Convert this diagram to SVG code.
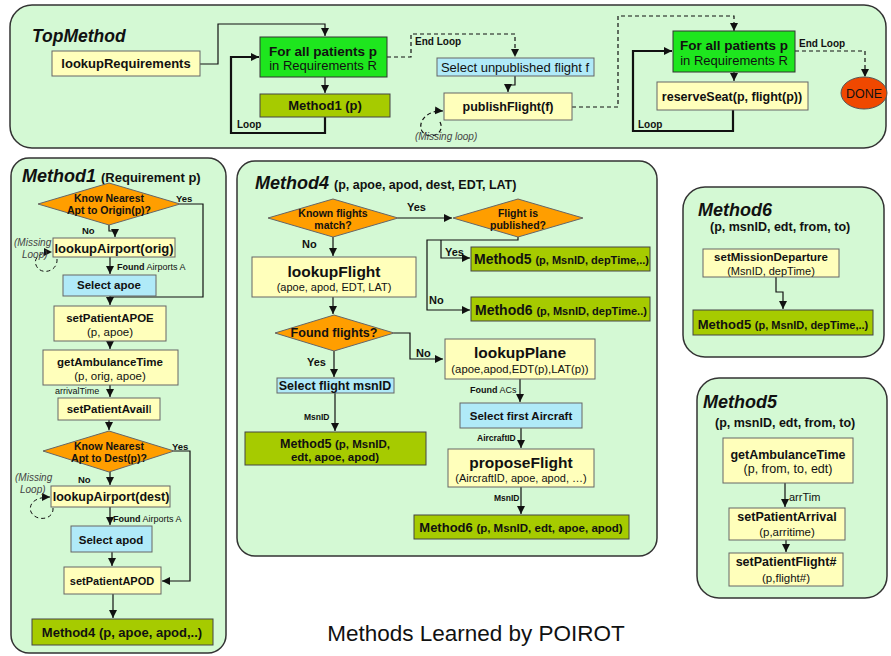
<svg xmlns="http://www.w3.org/2000/svg" width="891" height="656" viewBox="0 0 891 656">
<defs>
<marker id="a" viewBox="0 0 10 10" refX="10" refY="5" markerWidth="8" markerHeight="8" orient="auto" markerUnits="userSpaceOnUse"><path d="M0,0 L10,5 L0,10 z" fill="#111"/></marker>
</defs>
<style>
text{font-family:"Liberation Sans",Arial,sans-serif;fill:#111}
.panel{fill:#d4f9d4;stroke:#333;stroke-width:1.5}
.yel{fill:#ffffbb;stroke:#666;stroke-width:1}
.blue{fill:#b0eaf8;stroke:#666;stroke-width:1}
.grn{fill:#1ee61e;stroke:#333;stroke-width:1}
.olv{fill:#a6cb00;stroke:#444;stroke-width:1}
.dia{fill:#ff9e00;stroke:#666;stroke-width:1}
.c{fill:none;stroke:#111;stroke-width:1.2;marker-end:url(#a)}
.n{fill:none;stroke:#111;stroke-width:1.2}
.th{stroke-width:2.2}
.d{stroke-dasharray:4 3}
.b{font-weight:bold}
.m{text-anchor:middle}
.t{font-weight:bold;font-style:italic;font-size:18px}
.ml{font-style:italic;font-size:10px;fill:#444}
</style>

<!-- panels -->
<rect class="panel" x="10" y="5" width="876" height="143" rx="22"/>
<rect class="panel" x="11" y="158" width="215" height="495" rx="18"/>
<rect class="panel" x="237" y="161" width="420" height="395" rx="18"/>
<rect class="panel" x="683" y="187" width="201" height="170" rx="22"/>
<rect class="panel" x="697" y="378" width="190" height="220" rx="22"/>

<text class="t" x="32" y="42" style="font-size:17.5px">TopMethod</text>
<text class="t" x="22" y="182">Method1 <tspan class="b" style="font-style:normal;font-size:13px">(Requirement p)</tspan></text>
<text class="t" x="255" y="189">Method4 <tspan class="b" style="font-style:normal;font-size:12.5px">(p, apoe, apod, dest, EDT, LAT)</tspan></text>
<text class="t" x="698" y="216">Method6</text>
<text class="b" x="710" y="231" style="font-size:12.5px">(p, msnID, edt, from, to)</text>
<text class="t" x="703" y="408">Method5</text>
<text class="b" x="715" y="427" style="font-size:12.5px">(p, msnID, edt, from, to)</text>

<!-- connectors -->
<g id="connectors">
<path class="c" d="M200,64 H218 V24 H325 V36"/>
<path class="c" d="M325,77 V93"/>
<path class="c th" d="M325,117 V133 H231 V57 H259"/>
<path class="c d" d="M387,57 H411 V34 H515 V57"/>
<path class="c" d="M515,76 V85 H508 V92"/>
<path class="c d" d="M440,122 C446,134 428,141 422,131 C417,121 428,110 443,111"/>
<path class="c d" d="M572,107 H618 V16 H734 V31"/>
<path class="c" d="M734,72 V81"/>
<path class="c th" d="M733,110 V131 H633 V51 H672"/>
<path class="c d" d="M795,51 H865 V77"/>

<path class="c" d="M109,225 V231 H115 V237"/>
<path class="n" d="M180,204 H203 V297 H110"/>
<path class="c d" d="M57,259 C58,272 40,276 36,265 C33,257 42,252 52,252" style="stroke-width:1"/>
<path class="c" d="M110,257 V274"/>
<path class="c" d="M110,296 V305"/>
<path class="c" d="M110,341 V349"/>
<path class="c" d="M110,385 V397"/>
<path class="c" d="M109,420 V430"/>
<path class="c" d="M110,472 V485"/>
<path class="c" d="M174,451 H190 V581 H162"/>
<path class="c d" d="M53,508 C54,520 36,522 31,512 C28,503 36,497 50,497" style="stroke-width:1"/>
<path class="c" d="M110,507 V525"/>
<path class="c" d="M112,552 V566"/>
<path class="c" d="M113,594 V618"/>

<path class="c" d="M398,218 H452"/>
<path class="c" d="M333,237 V256"/>
<path class="c" d="M518,237 V240 H427 V310 H470"/>
<path class="c" d="M441,240 V258 H470"/>
<path class="c" d="M333,297 V314"/>
<path class="c" d="M334,351 V377"/>
<path class="c" d="M394,333 H410 V359 H443"/>
<path class="c" d="M335,393 V431"/>
<path class="c" d="M520,379 V402"/>
<path class="c" d="M521,428 V448"/>
<path class="c" d="M521,487 V514"/>

<path class="c" d="M776,277 V292 H783 V309"/>
<path class="c" d="M785,483 V507"/>
<path class="c" d="M786,540 V552"/>
</g>

<!-- connector labels -->
<text class="b" x="237" y="128" style="font-size:10px">Loop</text>
<text class="b" x="415" y="45" style="font-size:10px">End Loop</text>
<text class="ml" x="415" y="140">(Missing loop)</text>
<text class="b" x="638" y="128" style="font-size:10px">Loop</text>
<text class="b" x="799" y="47" style="font-size:10px">End Loop</text>

<text class="b" x="176" y="202" style="font-size:9.5px">Yes</text>
<text class="b" x="82" y="234" style="font-size:9.5px">No</text>
<text class="ml" x="14" y="246">(Missing</text>
<text class="ml" x="22" y="258">Loop)</text>
<text x="117" y="270" style="font-size:9px"><tspan class="b">Found</tspan> Airports A</text>
<text x="55" y="394" style="font-size:9px">arrivalTime</text>
<text class="b" x="172" y="450" style="font-size:9.5px">Yes</text>
<text class="b" x="78" y="483" style="font-size:9.5px">No</text>
<text class="ml" x="15" y="481">(Missing</text>
<text class="ml" x="20" y="493">Loop)</text>
<text x="113" y="522" style="font-size:9px"><tspan class="b">Found</tspan> Airports A</text>

<text class="b" x="407" y="211" style="font-size:11px">Yes</text>
<text class="b" x="302" y="248" style="font-size:11px">No</text>
<text class="b" x="445" y="256" style="font-size:11px">Yes</text>
<text class="b" x="429" y="304" style="font-size:11px">No</text>
<text class="b" x="307" y="366" style="font-size:11px">Yes</text>
<text class="b" x="416" y="357" style="font-size:11px">No</text>
<text class="b" x="304" y="420" style="font-size:8.5px">MsnID</text>
<text x="470" y="393" style="font-size:9px"><tspan class="b">Found</tspan> ACs</text>
<text class="b" x="477" y="441" style="font-size:8.5px">AircraftID</text>
<text class="b" x="494" y="501" style="font-size:8.5px">MsnID</text>
<text x="789" y="501" style="font-size:11px">arrTim</text>

<!-- TopMethod nodes -->
<g id="lookupRequirements"><rect class="yel" x="52" y="51" width="148" height="25"/><text class="b m" x="126" y="68" style="font-size:13px">lookupRequirements</text></g>
<g id="forAll1"><rect class="grn" x="260" y="37" width="127" height="40"/><text class="b m" x="323" y="56" style="font-size:13.5px">For all patients p</text><text class="m" x="323" y="70" style="font-size:13px">in Requirements R</text></g>
<g id="method1p"><rect class="olv" x="260" y="94" width="130" height="23"/><text class="b m" x="325" y="110" style="font-size:13px">Method1 (p)</text></g>
<g id="selectUnpublished"><rect class="blue" x="437" y="58" width="157" height="18"/><text class="m" x="515" y="72" style="font-size:13px">Select unpublished flight f</text></g>
<g id="publishFlight"><rect class="yel" x="444" y="93" width="128" height="27"/><text class="b m" x="508" y="111" style="font-size:12.5px">publishFlight(f)</text></g>
<g id="forAll2"><rect class="grn" x="673" y="31" width="122" height="41"/><text class="b m" x="734" y="50" style="font-size:13.5px">For all patients p</text><text class="m" x="734" y="65" style="font-size:13px">in Requirements R</text></g>
<g id="reserveSeat"><rect class="yel" x="657" y="82" width="151" height="28"/><text class="b m" x="732" y="101" style="font-size:12.5px">reserveSeat(p, flight(p))</text></g>
<g id="done"><ellipse cx="864" cy="93" rx="23" ry="16" fill="#f04800" stroke="#555"/><text class="m" x="864" y="98" style="font-size:12.5px">DONE</text></g>

<!-- Method1 nodes -->
<g id="m1-knowOrigin"><polygon class="dia" points="38,204 109,183 180,204 109,225"/><text class="b m" x="109" y="202" style="font-size:10.5px">Know Nearest</text><text class="b m" x="109" y="214" style="font-size:10.5px">Apt to Origin(p)?</text></g>
<g id="m1-lookupAirportOrig"><rect class="yel" x="53" y="238" width="122" height="19"/><text class="b m" x="114" y="253" style="font-size:13px">lookupAirport(orig)</text></g>
<g id="m1-selectApoe"><rect class="blue" x="63" y="275" width="93" height="21"/><text class="b m" x="109" y="289" style="font-size:11.5px">Select apoe</text></g>
<g id="m1-setPatientAPOE"><rect class="yel" x="54" y="306" width="112" height="35"/><text class="b m" x="110" y="322" style="font-size:11.5px">setPatientAPOE</text><text class="m" x="110" y="336" style="font-size:11.5px">(p, apoe)</text></g>
<g id="m1-getAmbulanceTime"><rect class="yel" x="43" y="350" width="135" height="35"/><text class="b m" x="110" y="366" style="font-size:11.5px">getAmbulanceTime</text><text class="m" x="110" y="380" style="font-size:11.5px">(p, orig, apoe)</text></g>
<g id="m1-setPatientAvail"><rect class="yel" x="58" y="398" width="102" height="22"/><text class="b m" x="109" y="413" style="font-size:11.5px">setPatientAvail<tspan style="font-weight:normal">l</tspan></text></g>
<g id="m1-knowDest"><polygon class="dia" points="43,451 109,431 174,451 109,472"/><text class="b m" x="109" y="450" style="font-size:10.5px">Know Nearest</text><text class="b m" x="109" y="462" style="font-size:10.5px">Apt to Dest(p)?</text></g>
<g id="m1-lookupAirportDest"><rect class="yel" x="51" y="486" width="119" height="21"/><text class="b m" x="111" y="501" style="font-size:12.5px">lookupAirport(dest)</text></g>
<g id="m1-selectApod"><rect class="blue" x="71" y="526" width="81" height="26"/><text class="b m" x="111" y="544" style="font-size:11.5px">Select apod</text></g>
<g id="m1-setPatientAPOD"><rect class="yel" x="64" y="567" width="97" height="27"/><text class="b m" x="112" y="585" style="font-size:11px">setPatientAPOD</text></g>
<g id="m1-method4"><rect class="olv" x="32" y="619" width="181" height="26"/><text class="b m" x="122" y="637" style="font-size:13px">Method4 (p, apoe, apod,..)</text></g>

<!-- Method4 nodes -->
<g id="m4-knownFlights"><polygon class="dia" points="268,218 333,199 398,218 333,237"/><text class="b m" x="333" y="217" style="font-size:10.5px">Known flights</text><text class="b m" x="333" y="229" style="font-size:10.5px">match?</text></g>
<g id="m4-flightPublished"><polygon class="dia" points="453,218 518,199 583,218 518,237"/><text class="b m" x="518" y="217" style="font-size:10.5px">Flight is</text><text class="b m" x="518" y="229" style="font-size:10.5px">published?</text></g>
<g id="m4-method5a"><rect class="olv" x="471" y="247" width="179" height="24"/><text class="b" x="474" y="264" style="font-size:14px">Method5 <tspan style="font-size:11px">(p, MsnID, depTime,..)</tspan></text></g>
<g id="m4-method6a"><rect class="olv" x="471" y="297" width="179" height="24"/><text class="b" x="475" y="315" style="font-size:14px">Method6 <tspan style="font-size:11px">(p, MsnID, depTime..)</tspan></text></g>
<g id="m4-lookupFlight"><rect class="yel" x="252" y="257" width="164" height="40"/><text class="b m" x="334" y="277" style="font-size:15.5px">lookupFlight</text><text class="m" x="334" y="291" style="font-size:11px">(apoe, apod, EDT, LAT)</text></g>
<g id="m4-foundFlights"><polygon class="dia" points="275,333 334,315 394,333 334,351"/><text class="b m" x="334" y="337" style="font-size:12.5px">Found flights?</text></g>
<g id="m4-selectMsnID"><rect class="blue" x="277" y="378" width="117" height="15"/><text class="b m" x="335" y="390" style="font-size:12.5px">Select flight msnID</text></g>
<g id="m4-method5b"><rect class="olv" x="245" y="432" width="181" height="33"/><text class="b m" x="335" y="448" style="font-size:12.5px">Method5 <tspan style="font-size:11.5px">(p, MsnID,</tspan></text><text class="b m" x="335" y="461" style="font-size:11.5px">edt, apoe, apod)</text></g>
<g id="m4-lookupPlane"><rect class="yel" x="445" y="339" width="150" height="40"/><text class="b m" x="520" y="358" style="font-size:15.5px">lookupPlane</text><text class="m" x="520" y="373" style="font-size:11.3px">(apoe,apod,EDT(p),LAT(p))</text></g>
<g id="m4-selectAircraft"><rect class="blue" x="460" y="403" width="122" height="25"/><text class="b m" x="521" y="420" style="font-size:11.5px">Select first Aircraft</text></g>
<g id="m4-proposeFlight"><rect class="yel" x="448" y="449" width="146" height="38"/><text class="b m" x="521" y="468" style="font-size:15.5px">proposeFlight</text><text class="m" x="521" y="482" style="font-size:11px">(AircraftID, apoe, apod, …)</text></g>
<g id="m4-method6b"><rect class="olv" x="414" y="515" width="215" height="24"/><text class="b m" x="521" y="532" style="font-size:13px">Method6 <tspan style="font-size:11.5px">(p, MsnID, edt, apoe, apod)</tspan></text></g>

<!-- Method6 nodes -->
<g id="m6-setMissionDeparture"><rect class="yel" x="703" y="249" width="136" height="28"/><text class="b m" x="771" y="261" style="font-size:11.5px">setMissionDeparture</text><text class="m" x="771" y="275" style="font-size:11px">(MsnID, depTime)</text></g>
<g id="m6-method5"><rect class="olv" x="693" y="310" width="180" height="25"/><text class="b m" x="783" y="329" style="font-size:13px">Method5 <tspan style="font-size:11px">(p, MsnID, depTime,..)</tspan></text></g>

<!-- Method5 nodes -->
<g id="m5-getAmbulanceTime"><rect class="yel" x="723" y="438" width="130" height="45"/><text class="b m" x="788" y="459" style="font-size:12.5px">getAmbulanceTime</text><text class="m" x="788" y="473" style="font-size:12.5px">(p, from, to, edt)</text></g>
<g id="m5-setPatientArrival"><rect class="yel" x="729" y="508" width="116" height="32"/><text class="b m" x="787" y="521" style="font-size:12.5px">setPatientArrival</text><text class="m" x="787" y="536" style="font-size:11.5px">(p,arritime)</text></g>
<g id="m5-setPatientFlight"><rect class="yel" x="729" y="553" width="114" height="33"/><text class="b m" x="786" y="566" style="font-size:12.5px">setPatientFlight#</text><text class="m" x="786" y="582" style="font-size:11.5px">(p,flight#)</text></g>

<text class="m" x="476" y="641" style="font-size:22.5px">Methods Learned by POIROT</text>
</svg>
